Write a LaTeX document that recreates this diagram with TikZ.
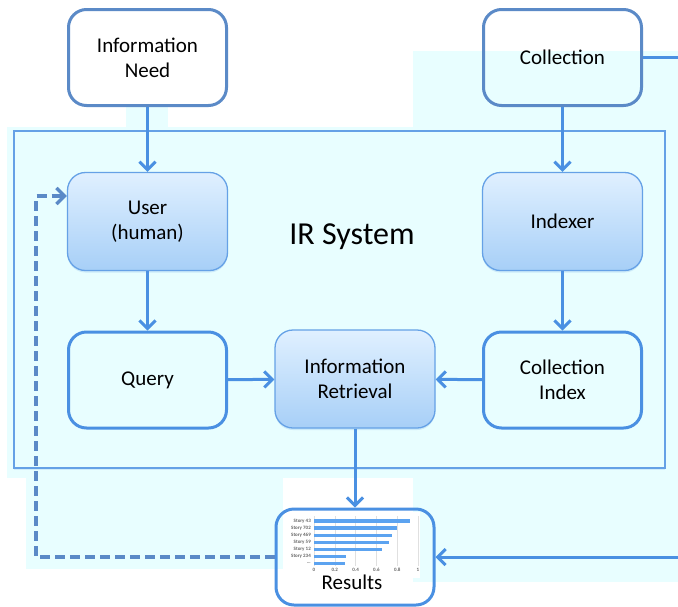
\documentclass[tikz,border=0pt]{standalone}
\usepackage{fontspec}
\setmainfont{Carlito}
\usetikzlibrary{arrows.meta,shadows}

\newlength{\du}
\setlength{\du}{1pt}

\definecolor{bgcyan}{rgb}{0.910, 0.996, 1.000}
\definecolor{edgeblue}{rgb}{0.290, 0.565, 0.886}
\definecolor{dullblue}{rgb}{0.357, 0.541, 0.780}
\definecolor{topfill}{rgb}{0.878, 0.941, 1.000}
\definecolor{botfill}{rgb}{0.655, 0.812, 0.969}
\definecolor{barblue}{rgb}{0.361, 0.639, 0.941}

\tikzset{
  thickbox/.style={draw=edgeblue, line width=3\du, rounded corners=18\du,
    minimum width=158\du, minimum height=96\du, align=center,
    font=\fontsize{21}{25}\selectfont},
  topbox/.style={thickbox, draw=dullblue},
  shadebox/.style={draw=edgeblue!85, line width=1.3\du, rounded corners=18\du,
    minimum width=160\du, minimum height=98\du, align=center,
    top color=topfill, bottom color=botfill,
    drop shadow={shadow xshift=0\du, shadow yshift=-2\du, opacity=0.18, fill=edgeblue},
    font=\fontsize{21}{25}\selectfont},
  flow/.style={draw=edgeblue, line width=3\du, -{Straight Barb[length=8pt, width=16pt]}},
  back/.style={flow, draw=dullblue, line width=3.4\du, dash pattern=on 10\du off 5\du}
}

\begin{document}
\begin{tikzpicture}[x=\du, y=-\du]
\useasboundingbox (0,0) rectangle (678,606);

% pale backdrop
\fill[bgcyan] (413,51) rectangle (678,582);
\fill[bgcyan] (7,127) rectangle (420,478);
\fill[bgcyan] (26,478) rectangle (283,569);
\fill[bgcyan] (126,106) rectangle (168,127);

% system frame
\node[draw=edgeblue!85, line width=1.3\du, fill=bgcyan, minimum width=651\du, minimum height=337\du,
  drop shadow={shadow xshift=0\du, shadow yshift=-2\du, opacity=0.15, fill=edgeblue}] (irsys) at (339.5,299.5) {};
\node[font=\fontsize{32}{36}\selectfont] (irlabel) at (352,237) {IR System};

% results chart (pasted picture)
\fill[white] (283,478) rectangle (333,512);
\fill[white] (376,478) rectangle (413,512);
\fill[white] (285,512) rectangle (420,578);
\foreach \k in {0,1,2,3,4,5}
  \draw[black!12, line width=0.3\du] (314+20.8*\k,516) -- (314+20.8*\k,566);
\foreach \lab/\val [count=\i] in {Story 43/0.92, Story 702/0.80, Story 469/0.75, Story 59/0.72, Story 12/0.65, Story 234/0.31, \textellipsis/0.30}
{
  \fill[barblue] (314,519.3+7.1*\i-7.1) rectangle (314+104*\val,522.7+7.1*\i-7.1);
  \node[anchor=east, inner sep=0pt, text=black!60, font=\bfseries\fontsize{5}{5}\selectfont] at (311,521+7.1*\i-7.1) {\lab};
}
\foreach \t [count=\k from 0] in {0,0.2,0.4,0.6,0.8,1}
  \node[inner sep=0pt, text=black!60, font=\bfseries\fontsize{5}{5}\selectfont] at (314+20.8*\k,569.5) {\t};

% boxes
\node[topbox] (need) at (147.5,57.5) {Information\\Need};
\node[topbox] (coll) at (562.5,57.5) {Collection};
\node[shadebox] (user) at (147.5,221.5) {User\\(human)};
\node[shadebox] (indexer) at (562.5,221.5) {Indexer};
\node[thickbox] (query) at (147.5,380) {Query};
\node[shadebox] (ir) at (355,379) {Information\\Retrieval};
\node[thickbox] (cindex) at (562.5,380) {Collection\\Index};
\node[thickbox] (res) at (355,557) {};
\node[font=\fontsize{21}{25}\selectfont, inner sep=0pt] (restext) at (352,582) {Results};

% connectors
\draw[flow] (need) -- (user);
\draw[flow] (coll) -- (indexer);
\draw[flow] (user) -- (query);
\draw[flow] (indexer) -- (cindex);
\draw[flow] (query) -- (ir);
\draw[flow] (cindex) -- (ir);
\draw[flow] (ir) -- (res);
\coordinate (offright) at (700,557);
\draw[flow] (coll.east) -| (offright) -- (res.east);
\coordinate (fbturn) at (36,196);
\draw[back] (res.west) -| (fbturn) -- (fbturn -| user.west);
\end{tikzpicture}
\end{document}
